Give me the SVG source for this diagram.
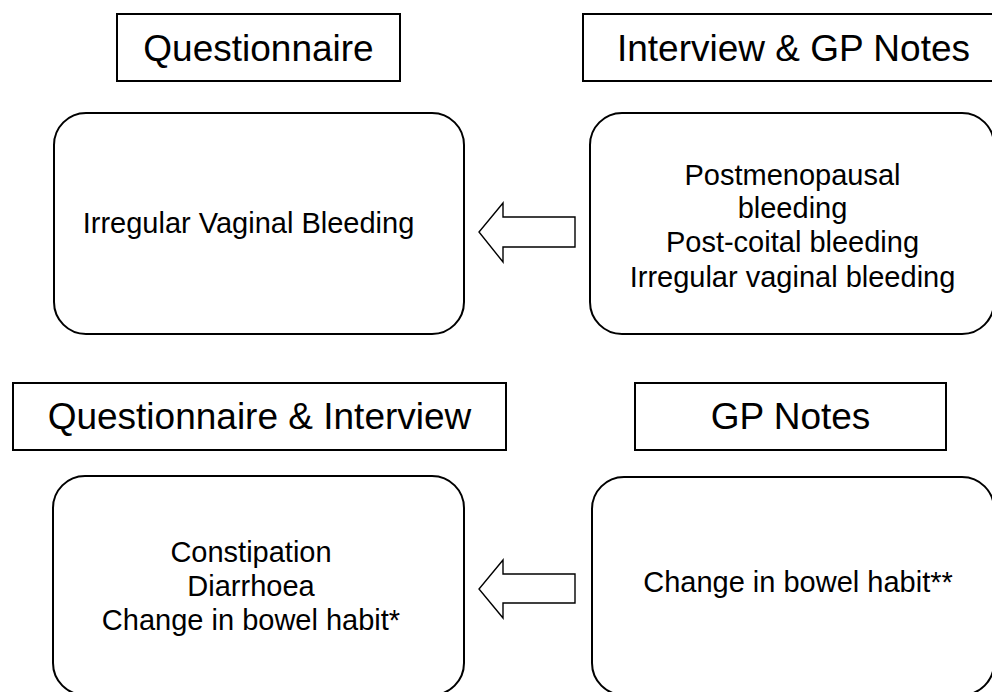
<svg xmlns="http://www.w3.org/2000/svg" width="992" height="692" viewBox="0 0 992 692">
  <style>
    .title { fill: #fff; stroke: #000; stroke-width: 2; }
    .panel { fill: #fff; stroke: #000; stroke-width: 2; }
    .arrow { fill: #fff; stroke: #000; stroke-width: 1.4; stroke-linejoin: miter; }
    text { font-family: "Liberation Sans", Arial, sans-serif; fill: #000; text-anchor: middle; }
    .h { font-size: 37px; }
    .b { font-size: 29px; }
  </style>
  <rect width="992" height="692" fill="#fff"/>

  <!-- Row 1: bleeding -->
  <g id="hdr-questionnaire">
    <rect class="title" x="117" y="14" width="283" height="67"/>
    <text class="h" x="258.5" y="61">Questionnaire</text>
  </g>
  <g id="hdr-interview-gp">
    <rect class="title" x="583" y="14" width="421" height="67"/>
    <text class="h" x="793.5" y="61">Interview &amp; GP Notes</text>
  </g>
  <g id="box-irregular">
    <rect class="panel" x="54" y="113" width="410" height="221" rx="32" ry="32"/>
    <text class="b" x="248.5" y="233">Irregular Vaginal Bleeding</text>
  </g>
  <g id="box-bleeding-types">
    <rect class="panel" x="590" y="113" width="404" height="221" rx="32" ry="32"/>
    <text class="b" x="792.5" y="185">Postmenopausal</text>
    <text class="b" x="792.5" y="218">bleeding</text>
    <text class="b" x="792.5" y="252">Post-coital bleeding</text>
    <text class="b" x="792.5" y="287">Irregular vaginal bleeding</text>
  </g>

  <!-- Row 2: bowel habit -->
  <g id="hdr-questionnaire-interview">
    <rect class="title" x="13" y="383" width="493" height="67"/>
    <text class="h" x="259.5" y="429">Questionnaire &amp; Interview</text>
  </g>
  <g id="hdr-gp">
    <rect class="title" x="635" y="383" width="311" height="67"/>
    <text class="h" x="790.5" y="429">GP Notes</text>
  </g>
  <g id="box-bowel-left">
    <rect class="panel" x="53" y="476" width="411" height="219" rx="32" ry="32"/>
    <text class="b" x="251" y="562">Constipation</text>
    <text class="b" x="251" y="596">Diarrhoea</text>
    <text class="b" x="251" y="630">Change in bowel habit*</text>
  </g>
  <g id="box-bowel-right">
    <rect class="panel" x="592" y="477" width="402" height="218" rx="32" ry="32"/>
    <text class="b" x="798" y="592">Change in bowel habit**</text>
  </g>

  <!-- Block arrows pointing from right panels to left panels -->
  <g id="connectors">
    <path class="arrow" d="M575,217 L503,217 L503,203 L479,232 L503,262 L503,247 L575,247 Z"/>
    <path class="arrow" d="M575,574 L503,574 L503,560 L479,589 L503,618 L503,603 L575,603 Z"/>
  </g>
</svg>
